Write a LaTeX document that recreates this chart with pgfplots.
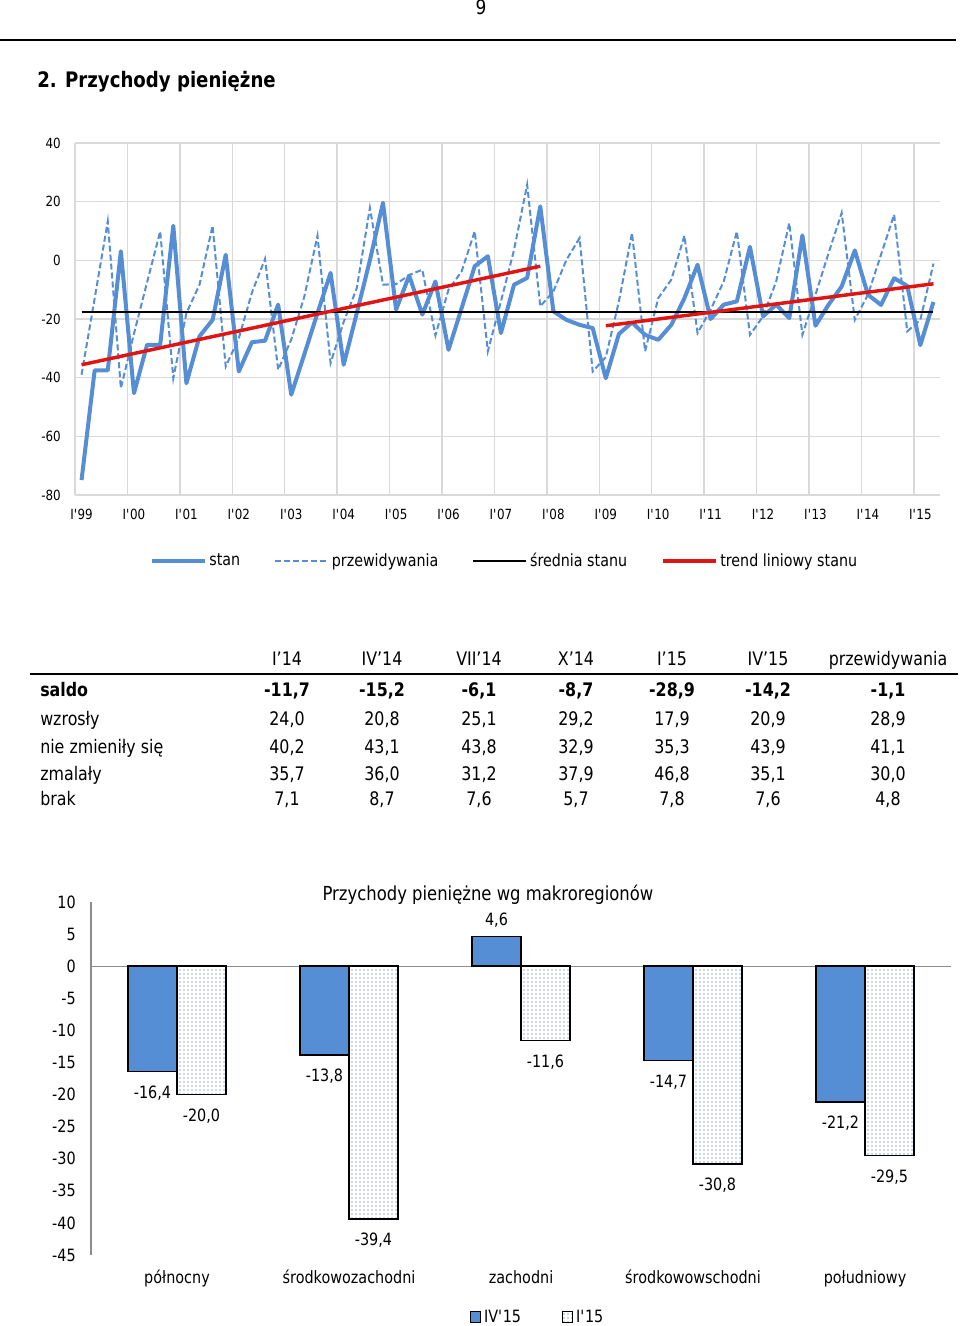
\documentclass[border=0pt]{standalone}
\usepackage{fontspec}
\setmainfont{DejaVu Sans}[FakeStretch=0.85]
\usepackage{pgfplots}
\pgfplotsset{compat=1.18}
\usetikzlibrary{patterns}
\definecolor{stanblue}{RGB}{85,142,213}
\definecolor{trendred}{RGB}{225,20,20}
\definecolor{gridgray}{RGB}{217,217,217}
\definecolor{barblue}{RGB}{85,142,213}
\definecolor{dotcol}{RGB}{55,85,140}
\definecolor{axisgray}{RGB}{140,140,140}
\pgfplotsset{sqlegend/.style={legend image code/.code={\draw[##1, line width=0.8pt] (0pt,-4pt) rectangle (7.5pt,4pt);}}}
\newcommand{\tfont}{\fontsize{14pt}{17pt}\selectfont}
\newcommand{\trow}[9]{%
  \node[tcell,anchor=base west] at (40,#1) {#2};
  \node[tcell] at (287,#1) {#3};
  \node[tcell] at (382,#1) {#4};
  \node[tcell] at (479,#1) {#5};
  \node[tcell] at (576,#1) {#6};
  \node[tcell] at (672,#1) {#7};
  \node[tcell] at (768,#1) {#8};
  \node[tcell] at (888,#1) {#9};}
\begin{document}
\begin{tikzpicture}[x=0.75pt,y=-0.75pt,tcell/.style={anchor=base,inner sep=0pt,font=\tfont}]
\useasboundingbox (0,0) rectangle (960,1326);
\fill[white] (0,0) rectangle (960,1326);
\node[anchor=base,inner sep=0pt,font=\fontsize{15pt}{18pt}\selectfont] at (481,15) {9};
\draw[line width=1.5pt] (0,40) -- (956,40);
\node[anchor=base west,inner sep=0pt,font=\bfseries\fontsize{16pt}{19pt}\selectfont] at (37,88) {2. Przychody pieniężne};

\begin{axis}[
  at={(56.25pt,-371.25pt)}, anchor=south west, scale only axis,
  width=648.75pt, height=264pt,
  xmin=-0.5, xmax=65.5, ymin=-80, ymax=40,
  axis line style={draw=none},
  major tick length=0pt, minor tick length=0pt,
  ytick={-80,-60,-40,-20,0,20,40},
  yticklabels={-80,-60,-40,-20,0,20,40},
  ymajorgrids,
  xtick={0,4,...,64},
  xticklabels={I\textquotesingle 99,I\textquotesingle 00,I\textquotesingle 01,I\textquotesingle 02,I\textquotesingle 03,I\textquotesingle 04,I\textquotesingle 05,I\textquotesingle 06,I\textquotesingle 07,I\textquotesingle 08,I\textquotesingle 09,I\textquotesingle 10,I\textquotesingle 11,I\textquotesingle 12,I\textquotesingle 13,I\textquotesingle 14,I\textquotesingle 15},
  minor xtick={-0.5,3.5,...,63.5},
  xminorgrids,
  major grid style={gridgray, line width=1.1pt},
  minor grid style={gridgray, line width=1.1pt},
  ticklabel style={font=\fontsize{10.5pt}{12pt}\selectfont, inner sep=0pt},
  yticklabel style={xshift=-10.5pt},
  xticklabel style={yshift=-10.5pt},
  legend columns=4,
  legend cell align=left,
  legend image code/.code={\draw[#1] (0pt,0pt) -- (39.75pt,0pt);},
  legend style={at={(0.086,-0.1875)}, anchor=west, draw=none, fill=none, inner sep=0pt,
    font=\fontsize{12.6pt}{15pt}\selectfont,
    /tikz/every even column/.append style={column sep=23.5pt}},
]
\addplot[stanblue, line width=3pt, line join=round] coordinates {
(0,-74.9) (1,-37.5) (2,-37.5) (3,3.1) (4,-45.3) (5,-28.8) (6,-28.8) (7,11.8) (8,-41.9) (9,-25.9)
(10,-20.3) (11,1.9) (12,-37.9) (13,-27.9) (14,-27.4) (15,-15.1) (16,-45.8) (17,-32) (18,-18) (19,-4.3)
(20,-35.6) (21,-18) (22,0) (23,19.6) (24,-16.8) (25,-5.2) (26,-18.5) (27,-7.2) (28,-30.5) (29,-16.3)
(30,-2.0) (31,1.4) (32,-24.8) (33,-8.3) (34,-6.0) (35,18.4) (36,-17.4) (37,-20.3) (38,-22.0) (39,-23.1)
(40,-40.2) (41,-25.1) (42,-21.2) (43,-25.4) (44,-27.1) (45,-22.0) (46,-12.9) (47,-1.5) (48,-20.0) (49,-15.1)
(50,-14.0) (51,4.6) (52,-19.1) (53,-15.1) (54,-19.7) (55,8.5) (56,-22.3) (57,-15.1) (58,-8.9) (59,3.4)
(60,-11.7) (61,-15.2) (62,-6.1) (63,-8.7) (64,-28.9) (65,-14.2)};
\addlegendentry{stan}
\addplot[stanblue, line width=1.5pt, dash pattern=on 4.5pt off 2.25pt] coordinates {
(0,-39.0) (1,-13) (2,13.3) (3,-43.6) (4,-25) (5,-7.5) (6,9.9) (7,-40.2) (8,-18) (9,-8.3)
(10,11.8) (11,-36.2) (12,-26.5) (13,-11) (14,0.5) (15,-37.3) (16,-27) (17,-12.3) (18,8.4) (19,-35)
(20,-21) (21,-9.5) (22,17.9) (23,-8.3) (24,-8.1) (25,-5.0) (26,-3.2) (27,-25.6) (28,-10) (29,-3.8)
(30,9.9) (31,-31) (32,-14) (33,3.6) (34,25.8) (35,-15.7) (36,-10.6) (37,0.2) (38,7.6) (39,-37.9)
(40,-33.0) (41,-14) (42,9.3) (43,-31) (44,-12.9) (45,-6.6) (46,8.4) (47,-24.8) (48,-16.8) (49,-7.2)
(50,9.9) (51,-25.4) (52,-19.1) (53,-7.2) (54,12.7) (55,-25.4) (56,-11.7) (57,2.5) (58,16.2) (59,-20.3)
(60,-11.7) (61,1.9) (62,15.6) (63,-24.2) (64,-20.3) (65,-1.1)};
\addlegendentry{przewidywania}
\addplot[black, line width=1.5pt] coordinates {(0,-17.7) (65,-17.7)};
\addlegendentry{średnia stanu}
\addplot[trendred, line width=2.6pt] coordinates {(0,-35.6) (35,-2.0)};
\addlegendentry{trend liniowy stanu}
\addplot[trendred, line width=2.6pt, forget plot] coordinates {(40,-22.3) (65,-8.0)};
\end{axis}

\trow{665}{}{I’14}{IV’14}{VII’14}{X’14}{I’15}{IV’15}{przewidywania}
\draw[line width=1.2pt] (30,674) -- (958,674);
\begin{scope}[tcell/.append style={font=\bfseries\tfont}]
\trow{696}{saldo}{-11,7}{-15,2}{-6,1}{-8,7}{-28,9}{-14,2}{-1,1}
\end{scope}
\trow{725}{wzrosły}{24,0}{20,8}{25,1}{29,2}{17,9}{20,9}{28,9}
\trow{753}{nie zmieniły się}{40,2}{43,1}{43,8}{32,9}{35,3}{43,9}{41,1}
\trow{780}{zmalały}{35,7}{36,0}{31,2}{37,9}{46,8}{35,1}{30,0}
\trow{805}{brak}{7,1}{8,7}{7,6}{5,7}{7,8}{7,6}{4,8}

\begin{axis}[
  at={(68.25pt,-941.25pt)}, anchor=south west, scale only axis,
  width=645pt, height=264.75pt,
  xmin=-0.5, xmax=4.5, ymin=-45, ymax=10,
  ybar=0pt, bar width=36.75pt,
  axis y line*=left, axis x line*=bottom,
  x axis line style={draw=none},
  y axis line style={-, draw=axisgray, line width=1pt},
  major tick length=0pt,
  ytick={-45,-40,...,10},
  yticklabels={-45,-40,-35,-30,-25,-20,-15,-10,-5,0,5,10},
  extra y ticks={0}, extra y tick labels={}, extra y tick style={grid=major},
  major grid style={axisgray, line width=1pt},
  xtick={0,1,2,3,4},
  xticklabels={północny,środkowozachodni,zachodni,środkowowschodni,południowy},
  ticklabel style={font=\fontsize{12.7pt}{15pt}\selectfont, inner sep=0pt},
  yticklabel style={xshift=-11.25pt},
  xticklabel style={yshift=-11.25pt},
  title={Przychody pieniężne wg makroregionów},
  title style={at={(0.4616,1)}, anchor=south, inner sep=0pt, yshift=-8pt, font=\fontsize{14.5pt}{17pt}\selectfont},
  legend columns=2,
  legend style={at={(0.4407,-0.1756)}, anchor=west, draw=none, fill=none, inner sep=0pt,
    font=\fontsize{12.7pt}{15pt}\selectfont,
    /tikz/every even column/.append style={column sep=29pt}},
  point meta=explicit symbolic,
  nodes near coords,
  visualization depends on={value \thisrow{y} \as \rawy},
  every node near coord/.append style={font=\fontsize{12.7pt}{15pt}\selectfont, inner ysep=10pt, inner xsep=0pt, black},
  every node near coord/.append code={\ifdim\rawy pt<0pt \pgfkeysalso{anchor=north}\else\pgfkeysalso{anchor=south,yshift=-3.5pt}\fi},
]
\addplot[fill=barblue, draw=black, line width=1.2pt, sqlegend]
  table[x=x, y=y, meta=lab] {
x y lab
0 -16.4 -16,4
1 -13.8 -13,8
2 4.6 4,6
3 -14.7 -14,7
4 -21.2 -21,2
};
\addlegendentry{IV\textquotesingle 15}
\addplot[fill=white, draw=black, line width=1.2pt,
  postaction={pattern=dots, pattern color=dotcol}, sqlegend]
  table[x=x, y=y, meta=lab] {
x y lab
0 -20.0 -20,0
1 -39.4 -39,4
2 -11.6 -11,6
3 -30.8 -30,8
4 -29.5 -29,5
};
\addlegendentry{I\textquotesingle 15}
\end{axis}
\end{tikzpicture}
\end{document}
